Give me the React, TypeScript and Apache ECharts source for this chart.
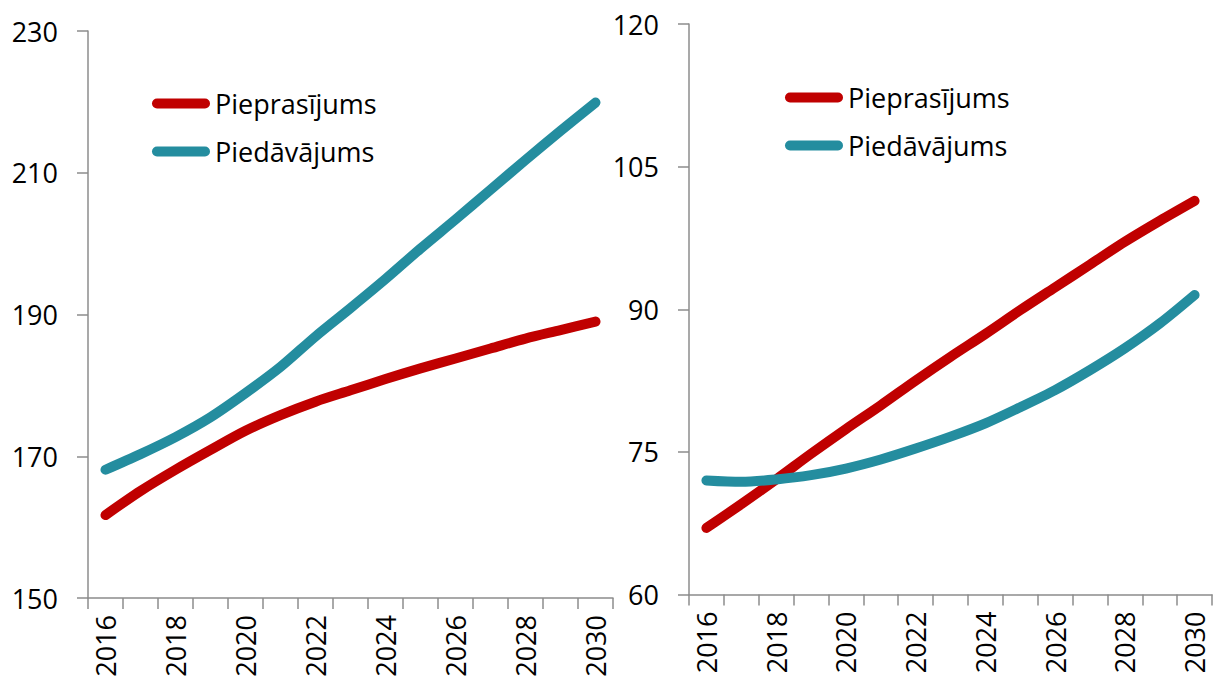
import React, { useEffect, useRef } from "react";
import * as echarts from "echarts";

const years = ["2016","2017","2018","2019","2020","2021","2022","2023","2024","2025","2026","2027","2028","2029","2030"];
const seriesNames = ["Pieprasījums", "Piedāvājums"];

const leftDemand = [161.7,165.1,168.1,170.9,173.6,175.8,177.7,179.3,180.9,182.4,183.8,185.2,186.6,187.8,189.0];
const leftSupply = [168.1,170.3,172.7,175.5,178.9,182.6,186.9,190.9,195.0,199.3,203.4,207.6,211.8,215.9,219.9];

const rightDemand = [67.0,69.5,72.1,74.8,77.4,79.9,82.5,85.0,87.4,89.9,92.3,94.7,97.1,99.3,101.4];
const rightSupply = [72.0,71.85,72.1,72.55,73.25,74.2,75.35,76.6,78.0,79.7,81.5,83.6,85.9,88.5,91.5];

const leftAxis = { min: 150, max: 230, interval: 20 };
const rightAxis = { min: 60, max: 120, interval: 15 };

const RED = "#C00000";
const TEAL = "#248D9F";
const FONT = "Open Sans";
const AXIS_COLOR = "#8C8C8C";
const CAPSULE = "path://M5,0 L53,0 A5,5 0 0 1 53,10 L5,10 A5,5 0 0 1 5,0 Z";

export default function App() {
  const ref = useRef<HTMLDivElement>(null);
  useEffect(() => {
    if (!ref.current) return;
    const chart = echarts.init(ref.current, undefined, { renderer: "svg" });
    const xAxisBase = (gridIndex: number) => ({
      type: "category" as const,
      gridIndex,
      data: years,
      boundaryGap: true,
      axisLine: { lineStyle: { color: AXIS_COLOR, width: 1.5 } },
      axisTick: { show: true, interval: 0, length: 11, inside: false, lineStyle: { color: AXIS_COLOR, width: 1.5 } },
      axisLabel: { interval: 1, rotate: 90, margin: 17, color: "#000", fontFamily: FONT, fontSize: 27 },
      splitLine: { show: false },
    });
    const yAxisBase = (gridIndex: number, a: { min: number; max: number; interval: number }) => ({
      type: "value" as const,
      gridIndex,
      min: a.min,
      max: a.max,
      interval: a.interval,
      axisLine: { show: true, lineStyle: { color: AXIS_COLOR, width: 1.5 } },
      axisTick: { show: true, length: 11, lineStyle: { color: AXIS_COLOR, width: 1.5 } },
      axisLabel: { margin: 30, color: "#000", fontFamily: FONT, fontSize: 27 },
      splitLine: { show: false },
    });
    const lineSeries = (name: string, data: number[], color: string, idx: number) => ({
      type: "line" as const,
      name,
      data,
      xAxisIndex: idx,
      yAxisIndex: idx,
      smooth: 0.3,
      showSymbol: false,
      symbol: "none",
      color,
      lineStyle: { color, width: 10, cap: "round" as const, join: "round" as const },
    });
    const legendBase = (left: number, top: number) => ({
      data: seriesNames.map((n) => ({ name: n, icon: CAPSULE })),
      orient: "vertical" as const,
      left,
      top,
      itemWidth: 58,
      itemHeight: 10,
      itemGap: 17,
      itemStyle: { borderWidth: 0 },
      lineStyle: { width: 0 },
      textStyle: { color: "#000", fontFamily: FONT, fontSize: 27, lineHeight: 31 },
      selectedMode: false,
    });
    chart.setOption({
      animation: false,
      backgroundColor: "#fff",
      grid: [
        { left: 88, top: 31, width: 525, height: 567 },
        { left: 689, top: 24, width: 523, height: 570.5 },
      ],
      xAxis: [xAxisBase(0), xAxisBase(1)],
      yAxis: [yAxisBase(0, leftAxis), yAxisBase(1, rightAxis)],
      legend: [legendBase(147, 83), legendBase(780, 77)],
      series: [
        lineSeries(seriesNames[0], leftDemand, RED, 0),
        lineSeries(seriesNames[1], leftSupply, TEAL, 0),
        lineSeries(seriesNames[0], rightDemand, RED, 1),
        lineSeries(seriesNames[1], rightSupply, TEAL, 1),
      ],
    });
    return () => chart.dispose();
  }, []);
  return (
    <div
      ref={ref}
      style={{ position: "absolute", left: 0, top: 0, width: 1215, height: 683 }}
    />
  );
}
